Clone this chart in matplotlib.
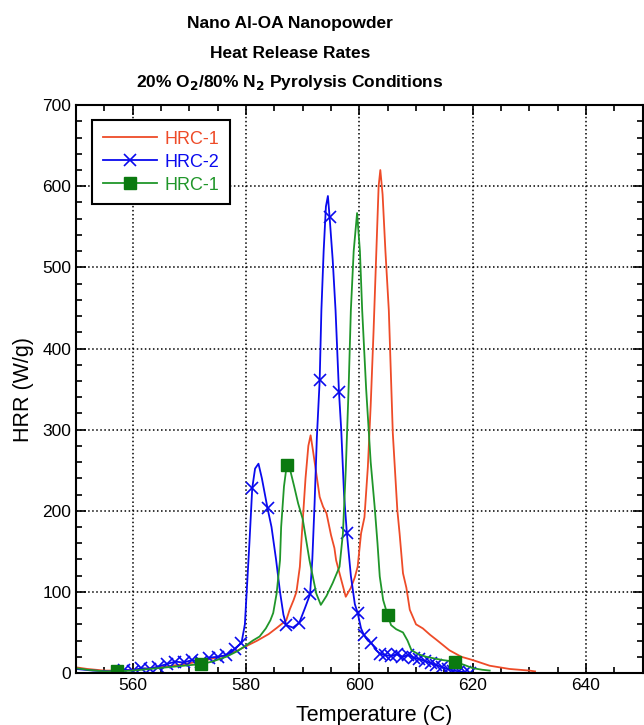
import matplotlib
matplotlib.use('Agg')
import matplotlib.pyplot as plt
from matplotlib.ticker import MultipleLocator
from matplotlib.lines import Line2D

plt.rcParams['font.family'] = ['Liberation Sans', 'DejaVu Sans']

# HRC-1 (red)
red_t = [550, 552, 555, 558, 560, 563, 566, 570, 573, 576, 578, 580, 582, 584, 585.5, 587.1,
         587.7, 588.4, 588.9, 589.5, 589.9, 590.5, 591.0, 591.4, 591.8, 592.4, 593.0, 593.6,
         594.2, 595.0, 595.6, 595.9, 596.8, 597.6, 598.5, 599.2, 599.7, 600.3, 600.9, 601.5,
         602.0, 602.5, 603.0, 603.4, 603.7, 604.1, 604.6, 605.2, 605.9, 606.7, 607.1, 607.7,
         608.3, 608.9, 610.0, 611.2, 612.5, 613.6, 615.9, 618.0, 620.0, 623.0, 626.5, 630.0, 631.0]
red_hrr = [7, 5, 3, 3, 4, 6, 8, 12, 16, 21, 26, 33, 40, 48, 56, 65,
           78, 90, 100, 131, 176, 240, 280, 293, 275, 246, 217, 205,
           197, 170, 154, 139, 115, 94, 105, 118, 131, 172, 192, 254,
           330, 420, 520, 600, 620, 590, 520, 447, 296, 201, 172, 123,
           105, 78, 60, 55, 47, 41, 28, 20, 16, 9, 5, 3, 2]

# HRC-2 (blue)
blue_t = [550, 553, 556, 558.5, 560, 561.5, 563, 564.5, 566, 567.5, 569, 570.5, 572, 573.5,
          575, 576.5, 578, 579.2, 579.8, 580.2, 580.6, 581.1, 581.6, 582.2, 582.8, 583.8,
          584.5, 585.3, 586.0, 586.6, 587.1, 588.3, 589.4, 590.4, 591.3, 591.7, 592.1, 592.5,
          593.0, 593.3, 593.7, 594.1, 594.45, 594.75, 595.3, 595.8, 596.4, 596.8, 597.3, 597.8,
          598.5, 599.2, 599.7, 600.3, 600.8, 601.5, 602.1, 603.0, 603.6, 604.6, 605.6, 606.6,
          607.6, 608.6, 609.6, 610.6, 611.6, 612.6, 613.6, 614.6, 615.6, 616.6, 617.6, 618.6, 619.6]
blue_hrr = [5, 3, 2, 4, 3, 6, 5, 8, 11, 14, 13, 16, 14, 19,
            20, 22, 30, 37, 60, 110, 160, 228, 252, 258, 240, 203,
            180, 140, 100, 72, 59, 56, 62, 80, 97, 140, 209, 290,
            361, 447, 520, 575, 588, 562, 509, 447, 347, 300, 220, 172,
            120, 85, 74, 55, 47, 40, 37, 28, 24, 22, 21, 23,
            20, 22, 19, 17, 15, 12, 10, 7, 5, 3, 2, 1, 0]
blue_marks = [3, 4, 5, 6, 7, 8, 9, 10, 11, 12, 13, 14, 15, 16, 17, 21, 25, 30, 32, 34, 38, 43,
              46, 49, 52, 54, 56, 58, 59, 60, 61, 62, 63, 64, 65, 66, 67, 68, 69, 70, 71, 72, 73, 74]

# HRC-1 (green)
green_t = [550, 552, 555, 557.2, 560, 563, 566, 569, 572, 574, 576.5, 578.5, 580, 581.2, 582.4,
           583.5, 584.3, 584.8, 585.4, 586.0, 586.2, 586.7, 587.2, 587.8, 588.5, 589.2, 590.0,
           590.8, 591.2, 592.4, 593.2, 594.2, 595.3, 596.5, 597.1, 597.6, 598.1, 598.5, 599.0,
           599.6, 600.1, 600.5, 601.2, 602.0, 602.7, 603.2, 603.6, 604.2, 605.0, 605.6, 606.5,
           607.7, 608.5, 609.2, 610.5, 611.8, 613.2, 614.7, 616.8, 618.5, 620.0, 621.7, 623.0]
green_hrr = [6, 4, 2, 2, 3, 5, 7, 9, 11, 14, 20, 27, 34, 40, 45,
             55, 65, 74, 98, 139, 180, 230, 257, 250, 230, 209, 190,
             156, 139, 98, 84, 95, 111, 131, 172, 250, 350, 447, 520,
             567, 520, 447, 350, 260, 205, 160, 119, 90, 71, 59, 54,
             50, 40, 28, 23, 20, 18, 16, 14, 10, 6, 4, 3]
green_marks = [3, 8, 22, 48, 58]

red_c = '#ee4b28'
blue_c = '#0a0aee'
green_c = '#20962a'

fig = plt.figure(figsize=(6.44, 7.25), dpi=100)
ax = fig.add_axes([0.118, 0.0717, 0.880, 0.7833])

ax.plot(red_t, red_hrr, color=red_c, lw=1.3)
ax.plot(blue_t, blue_hrr, color=blue_c, lw=1.3, marker='x', markevery=blue_marks,
        markersize=9, markeredgewidth=1.2)
ax.plot(green_t, green_hrr, color=green_c, lw=1.3, marker='s', markevery=green_marks,
        markersize=9, markerfacecolor='#0b7a10', markeredgecolor='#0b7a10')

ax.set_xlim(550, 650)
ax.set_ylim(0, 700)
ax.xaxis.set_major_locator(MultipleLocator(20))
ax.xaxis.set_minor_locator(MultipleLocator(5))
ax.yaxis.set_major_locator(MultipleLocator(100))
ax.yaxis.set_minor_locator(MultipleLocator(20))
ax.tick_params(which='both', direction='in', top=True, right=True, labelsize=12.5, width=1.2)
ax.tick_params(which='major', length=7)
ax.tick_params(which='minor', length=4)
ax.grid(True, which='major', linestyle=':', color='black', linewidth=1.1)
for s in ax.spines.values():
    s.set_linewidth(1.5)

ax.set_xlabel('Temperature (C)', fontsize=15.5, labelpad=9, x=0.527)
ax.set_ylabel('HRR (W/g)', fontsize=15.5, labelpad=6)

handles = [Line2D([], [], color=red_c, lw=1.3),
           Line2D([], [], color=blue_c, lw=1.3, marker='x', markersize=9, markeredgewidth=1.2),
           Line2D([], [], color=green_c, lw=1.3, marker='s', markersize=9,
                  markerfacecolor='#0b7a10', markeredgecolor='#0b7a10')]
leg = ax.legend(handles, ['HRC-1', 'HRC-2', 'HRC-1'], loc='upper left',
                bbox_to_anchor=(0.028, 0.974), borderaxespad=0, fontsize=13, fancybox=False,
                framealpha=1, edgecolor='black', handlelength=3.0, borderpad=0.6,
                labelspacing=0.33, handletextpad=0.4)
leg.get_frame().set_linewidth(1.5)
for txt, c in zip(leg.get_texts(), [red_c, blue_c, green_c]):
    txt.set_color(c)

fig.text(0.45, 0.967, 'Nano Al-OA Nanopowder', ha='center', va='center',
         fontsize=12.5, fontweight='bold')
fig.text(0.45, 0.926, 'Heat Release Rates', ha='center', va='center',
         fontsize=12.5, fontweight='bold')
fig.text(0.45, 0.886, r'20% O$_\mathbf{2}$/80% N$_\mathbf{2}$ Pyrolysis Conditions', ha='center', va='center',
         fontsize=12.5, fontweight='bold')

fig.savefig('out.png', dpi=100)
